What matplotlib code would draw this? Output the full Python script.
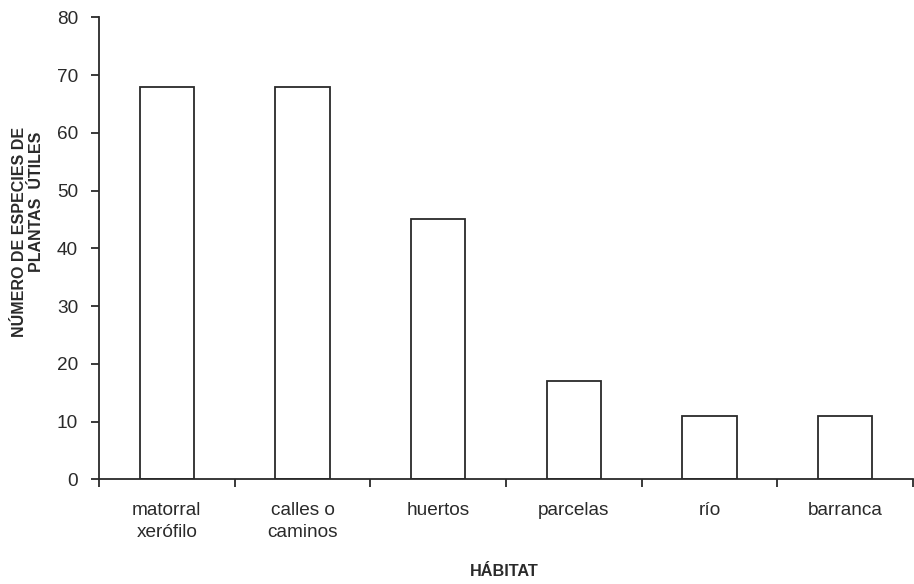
import matplotlib
matplotlib.use("Agg")
import matplotlib.pyplot as plt
import numpy as np

categories = ["matorral\nxerófilo", "calles o\ncaminos", "huertos", "parcelas", "río", "barranca"]
values = [68, 68, 45, 17, 11, 11]
yticks = [0, 10, 20, 30, 40, 50, 60, 70, 80]

plt.rcParams['font.family'] = ['Liberation Sans', 'DejaVu Sans']
ink = '#2a2a2a'

fig = plt.figure(figsize=(9.14, 5.84), dpi=100)
ax = fig.add_axes([99/914, (584-479.3)/584, (913-99)/914, (479.3-17.3)/584])

x = np.arange(len(categories))
ax.bar(x, values, width=0.4, facecolor='white', edgecolor=ink, linewidth=1.3)

ax.set_xlim(-0.5, len(categories) - 0.5)
ax.set_ylim(0, 80)
ax.set_yticks(yticks)
ax.set_yticklabels([str(v) for v in yticks])

# category boundaries as ticks, labels at centers
ax.set_xticks(np.arange(-0.5, len(categories), 1.0))
ax.set_xticklabels([''] * (len(categories) + 1))
ax.set_xticks(x, minor=True)
ax.set_xticklabels(categories, minor=True, fontsize=13.7, color=ink, linespacing=1.45)
ax.tick_params(axis='x', which='minor', length=0, pad=16)
ax.tick_params(axis='x', which='major', length=6, width=1.3, color=ink, direction='out')
ax.tick_params(axis='y', length=6, width=1.3, color=ink, direction='out', pad=9,
               labelsize=13.7, labelcolor=ink)

for s in ['top', 'right']:
    ax.spines[s].set_visible(False)
for s in ['left', 'bottom']:
    ax.spines[s].set_color(ink)
    ax.spines[s].set_linewidth(1.3)

fig.text(504/914, 1 - 571/584, "HÁBITAT", ha='center', va='center',
         fontsize=11.7, fontweight='bold', color=ink)
fig.text(28/914, 1 - 232/584, "NÚMERO DE ESPECIES DE\nPLANTAS  ÚTILES ", rotation=90,
         ha='center', va='center', multialignment='right', fontsize=11.5,
         fontweight='bold', color=ink, linespacing=1.15)

fig.savefig("out.png", dpi=100, facecolor='white')
